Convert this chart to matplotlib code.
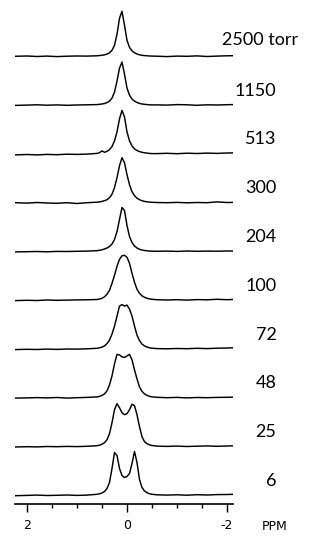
import matplotlib
matplotlib.use('Agg')
import matplotlib.pyplot as plt

# chemical shift sample positions (ppm)
ppm = [2.24, 2.0, 1.8, 1.6, 1.4, 1.2, 1.0, 0.8,
       0.6, 0.55, 0.5, 0.45, 0.4, 0.35, 0.3, 0.25, 0.2, 0.15, 0.1, 0.05, 0.0,
       -0.05, -0.1, -0.15, -0.2, -0.25, -0.3, -0.35, -0.4, -0.45, -0.5,
       -0.6, -0.8, -1.0, -1.2, -1.4, -1.6, -1.8, -2.0, -2.12]

# pressure labels, top to bottom
labels = ["2500 torr", "1150", "513", "300", "204", "100", "72", "48", "25", "6"]

# intensities (arbitrary units)
t2500 = [0.0, 0.3, -0.2, 0.2, -0.3, 0.1, 0.3, 0.2,
         0.5, 0.8, 1.0, 1.5, 2.2, 3.5, 6, 11, 22, 38, 45, 31, 16, 9, 5.5, 3.5, 2.3, 1.5, 1.0, 0.7, 0.5, 0.3, 0.2,
         0.1, -0.3, 0.2, 0.0, 0.4, -0.2, 0.2, 0.5, 0.6]
t1150 = [-0.3, 0.0, 0.3, -0.1, 0.2, -0.2, 0.1, 0.3,
         0.5, 0.8, 1.1, 1.6, 2.5, 4, 7, 13, 24, 37, 43, 31, 17, 10, 6, 4, 2.6, 1.7, 1.1, 0.8, 0.5, 0.3, 0.2,
         0.2, 0.0, 0.5, 0.3, -0.2, 0.3, 0.1, 0.4, 0.5]
t513 = [-1.0, -0.6, -1.0, -0.5, -0.8, -0.3, -0.5, -0.2,
        0.5, 1.2, 3.0, 1.6, 2.6, 4.3, 7.3, 13, 22, 35, 43.5, 37, 22, 13, 8, 5, 3.4, 2.3, 1.6, 1.1, 0.8, 0.5, 0.3,
        0.3, 0.6, 0.2, 0.7, 0.4, 0.8, 0.5, 0.9, 1.0]
t300 = [0.0, -0.4, 0.2, -0.3, -0.6, 0.0, -0.8, 0.0,
        0.5, 0.8, 1.3, 2, 3, 5, 8.5, 15, 25, 37, 45, 40, 28, 18, 11, 7, 4.5, 3, 2, 1.3, 0.9, 0.6, 0.4,
        0.2, 0.0, 0.3, -0.1, 0.2, 0.0, 0.8, 0.2, 0.3]
t204 = [-0.4, -0.2, 0.0, -0.3, 0.1, 0.0, 0.2, 0.4,
        0.8, 1.2, 1.7, 2.5, 3.5, 5, 7.5, 12, 20, 32, 44, 41, 26, 15, 9, 5.5, 3.5, 2.2, 1.5, 1.0, 0.7, 0.5, 0.3,
        0.2, 0.4, 0.1, 0.5, 0.2, 0.4, 0.3, 0.5, 0.5]
t100 = [-0.3, 0.0, -0.2, 0.3, 0.0, 0.2, 0.4, 0.5,
        0.8, 1.3, 2, 3.5, 6, 10, 17, 25, 34, 41, 44.5, 45, 43, 37, 27, 18, 11, 7, 4.5, 3, 2, 1.4, 1.0,
        0.6, 0.3, 0.6, 0.2, 0.7, 0.5, 1.0, 0.6, 0.8]
t72 = [-0.5, -0.2, -0.4, 0.0, -0.3, 0.1, 0.0, 0.3,
       0.8, 1.3, 2, 3.2, 5.5, 9, 15, 23, 33, 43, 44.5, 43, 44, 40, 33, 23, 14, 8.5, 5, 3.2, 2, 1.3, 0.9,
       0.5, 0.3, 0.6, 0.4, 0.8, 0.5, 0.9, 1.1, 1.3]
t48 = [-0.2, 0.0, 0.3, 0.0, 0.4, -0.2, 0.2, 0.5,
       1.0, 1.5, 2.5, 4, 7, 13, 22, 34, 43.5, 43, 41, 40.5, 42, 43.5, 38, 28, 19, 11, 6.5, 4, 2.5, 1.6, 1.0,
       0.6, 0.2, 0.5, 0.0, 0.4, 0.2, 0.5, 0.6, 0.8]
t25 = [-0.3, 0.0, -0.2, 0.2, 0.0, 0.3, 0.1, 0.4,
       1.0, 1.5, 2.5, 4, 7, 13, 24, 37, 43, 39, 34, 32, 33, 37, 42.5, 41, 32, 20, 10, 5, 3, 1.8, 1.2,
       0.6, 0.3, 0.6, 0.2, 0.5, 0.8, 0.4, 0.7, 0.9]
t6 = [-0.2, 0.1, 0.4, 0.0, 0.2, 0.5, 0.1, 0.4,
      1.2, 1.7, 2.5, 4, 7, 13, 27, 43, 40, 27, 20, 18, 19, 22, 32, 44, 33, 16, 8, 4.5, 2.8, 1.8, 1.2,
      0.7, 0.4, 0.7, 0.3, 0.8, 0.5, 0.9, 1.0, 1.2]

traces = [t2500, t1150, t513, t300, t204, t100, t72, t48, t25, t6]

major_ticks = [2, 0, -2]
major_labels = ["2", "0", "-2"]
minor_ticks = [1.5, 1.0, 0.5, -0.5, -1.0, -1.5]

W, H = 334, 538
fig = plt.figure(figsize=(W / 100, H / 100), dpi=100)
ax = fig.add_axes([15 / W, 34 / H, 218 / W, 504 / H])
ax.set_xlim(2.24, -2.12)
ax.set_ylim(0, 504)

lab_font = dict(family=['Lato', 'DejaVu Sans'], weight='normal', fontsize=13, color='black')

n = len(traces)
step = 48.8
base = 8.5
for i, (lab, tr) in enumerate(zip(labels, traces)):
    off = base + step * (n - 1 - i)
    ax.plot(ppm, [off + v for v in tr], color='black', lw=1.05, solid_joinstyle='round')
    if i == 0:
        ax.text(-1.89, off + 16, lab, ha='left', va='center', **lab_font)
    else:
        ax.text(-2.99, off + 14.5, lab, ha='right', va='center', **lab_font)

for s in ['left', 'right', 'top']:
    ax.spines[s].set_visible(False)
ax.spines['bottom'].set_linewidth(1.2)
ax.set_yticks([])
ax.set_xticks(major_ticks)
ax.set_xticklabels(major_labels)
ax.set_xticks(minor_ticks, minor=True)
ax.tick_params(axis='x', which='major', length=6, width=1, direction='out', pad=5, labelsize=9)
ax.tick_params(axis='x', which='minor', length=3, width=1, direction='out')

fig.text(275 / W, 1 - 526 / H, 'PPM', ha='center', va='center', fontsize=9)

fig.savefig('out.png', dpi=100)
